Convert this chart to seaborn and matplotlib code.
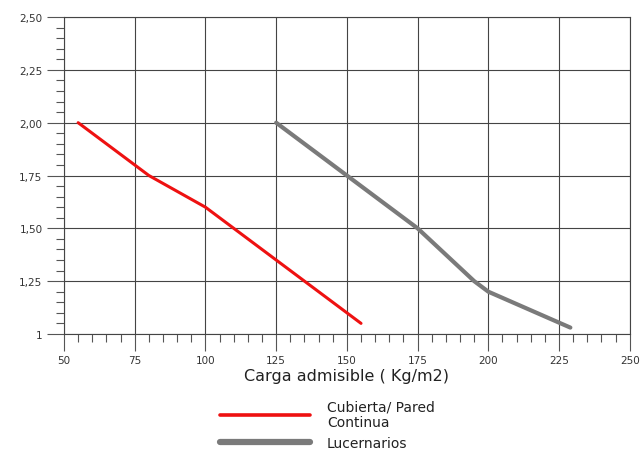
import numpy as np
import pandas as pd
import seaborn as sns
import matplotlib.pyplot as plt
from matplotlib.lines import Line2D
from matplotlib.ticker import MultipleLocator

# datos
carga_cubierta = [55, 80, 100, 155]
luz_cubierta = [2.00, 1.75, 1.60, 1.05]
carga_lucern = [125, 150, 175, 195, 200, 229]
luz_lucern = [2.00, 1.75, 1.50, 1.25, 1.20, 1.03]

x_ticks = [50, 75, 100, 125, 150, 175, 200, 225, 250]
y_ticks = [1.0, 1.25, 1.50, 1.75, 2.00, 2.25, 2.50]
y_labels = ["1", "1,25", "1,50", "1,75", "2,00", "2,25", "2,50"]

df1 = pd.DataFrame({"carga": carga_cubierta, "luz": luz_cubierta})
df2 = pd.DataFrame({"carga": carga_lucern, "luz": luz_lucern})

sns.set_style("white")
plt.rcParams["font.family"] = ["DejaVu Sans"]

fig = plt.figure(figsize=(6.4, 4.52), dpi=100)
ax = fig.add_axes([0.1, 0.259, 0.884, 0.701])

sns.lineplot(data=df1, x="carga", y="luz", color="#ee1111", linewidth=2.2, ax=ax, zorder=3)
sns.lineplot(data=df2, x="carga", y="luz", color="#7a7a7a", linewidth=3.0, ax=ax, zorder=3)

ax.set_xlim(50, 250)
ax.set_ylim(1, 2.5)
ax.set_xticks(x_ticks)
ax.set_yticks(y_ticks)
ax.set_yticklabels(y_labels)
ax.xaxis.set_minor_locator(MultipleLocator(5))
ax.yaxis.set_minor_locator(MultipleLocator(0.05))
ax.tick_params(axis="both", which="both", bottom=True, left=True)
ax.tick_params(axis="both", which="major", length=12, width=0.8, color="#555555",
               labelsize=7.5, labelcolor="#333333")
ax.tick_params(axis="both", which="minor", length=6, width=0.8, color="#555555")
ax.grid(True, which="major", color="#444444", linewidth=0.8)
for s in ax.spines.values():
    s.set_color("#444444")
    s.set_linewidth(0.8)

ax.set_xlabel("Carga admisible ( Kg/m2)", fontsize=11.5, color="#222222", labelpad=2)
ax.set_ylabel("")

# leyenda abajo, fuera del gráfico
handles = [Line2D([], [], color="#ee1111", linewidth=2.6),
           Line2D([], [], color="#7a7a7a", linewidth=4.5)]
labels = ["Cubierta/ Pared\nContinua", "Lucernarios"]
fig.legend(handles, labels, loc="upper left", bbox_to_anchor=(0.335, 0.127),
           frameon=False, fontsize=10, handlelength=6.5, handletextpad=1.2,
           labelspacing=0.45, labelcolor="#222222", borderaxespad=0)

fig.savefig("out.png", dpi=100)
